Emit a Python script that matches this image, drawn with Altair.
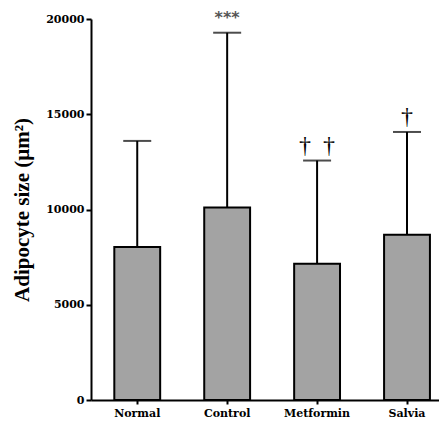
import altair as alt
import pandas as pd

groups = ["Normal", "Control", "Metformin", "Salvia"]
means = [8030, 10100, 7150, 8680]
sds = [5570, 9180, 5420, 5390]
stars = ["", "***", "", ""]
daggers = ["", "", "†\u00a0\u00a0†", "†"]

df = pd.DataFrame({"group": groups, "mean": means, "sd": sds, "stars": stars, "daggers": daggers})
df["upper"] = df["mean"] + df["sd"]

FONT = "DejaVu Serif"

x = alt.X("group:N", sort=groups,
          scale=alt.Scale(paddingInner=0.49, paddingOuter=0.18, align=0.72),
          axis=alt.Axis(title=None, labelAngle=0, labelFont=FONT, labelFontWeight="bold",
                        labelFontSize=11, labelColor="black", domainColor="black",
                        domainWidth=2, tickColor="black", tickWidth=2, tickSize=4,
                        labelPadding=3))
y_scale = alt.Scale(domain=[0, 20000], nice=False)

bars = alt.Chart(df).mark_bar(color="#a3a3a3", stroke="black", strokeWidth=2).encode(
    x=x,
    y=alt.Y("mean:Q", scale=y_scale,
            axis=alt.Axis(title="Adipocyte size (μm²)", values=[0, 5000, 10000, 15000, 20000],
                          format="d", grid=False, labelFont=FONT, labelFontWeight="bold",
                          labelFontSize=11, labelColor="black", domainColor="black",
                          domainWidth=2, tickColor="black", tickWidth=2, tickSize=5,
                          labelPadding=2, titleFont="Liberation Serif", titleFontWeight="bold",
                          titleFontSize=21, titleColor="black", titleX=-59)),
)

err = alt.Chart(df).mark_rule(color="black", strokeWidth=2).encode(
    x=x, y="mean:Q", y2="upper:Q")

caps = alt.Chart(df).mark_tick(color="black", thickness=2, size=28).encode(
    x=x, y="upper:Q")

star_text = alt.Chart(df).mark_text(font="DejaVu Sans", fontSize=16, fontWeight="bold",
                                    color="#555555", baseline="bottom", dy=-7).encode(
    x=x, y="upper:Q", text="stars:N")

dagger_text = alt.Chart(df).mark_text(font="Liberation Serif", fontSize=24,
                                      color="black", baseline="alphabetic", dy=-8).encode(
    x=x, y="upper:Q", text="daggers:N")

chart = alt.layer(bars, err, caps, star_text, dagger_text).properties(
    width=348, height=381,
    autosize=alt.AutoSizeParams(type="none"),
    padding={"left": 83, "top": 11, "right": 0, "bottom": 25},
).configure_view(stroke=None)

chart.save("out.html", embed_options={"renderer": "svg", "actions": False})
